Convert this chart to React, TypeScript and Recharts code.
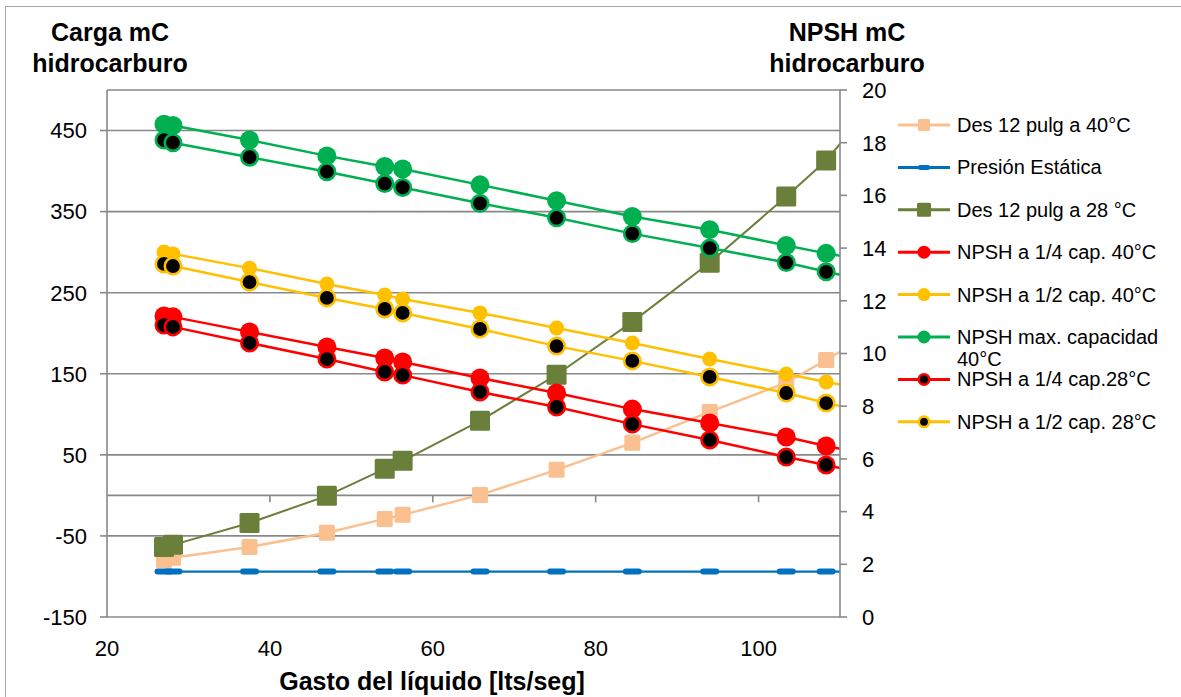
import React from 'react';
import { LineChart, Line, XAxis, YAxis, CartesianGrid, ReferenceLine } from 'recharts';

// caudal (x) – the last point sits past the axis end and gets clipped, like in the sheet
const flow = [27, 28.1, 37.5, 47, 54.1, 56.3, 65.8, 75.2, 84.5, 94, 103.4, 108.3, 113];

// left axis (Carga)
const des40 = [-79.6, -77, -63.6, -46, -29, -24, 0.6, 31.5, 64.8, 103, 139, 167, 195];
const presion = [-94, -94, -94, -94, -94, -94, -94, -94, -94, -94, -94, -94, -94];
const des28 = [-63.6, -61, -34, -0.6, 32.7, 42.6, 92, 148.8, 214, 287, 368.5, 413, 470];

// right axis (NPSH)
const npsh14_40 = [11.42, 11.39, 10.82, 10.25, 9.83, 9.68, 9.07, 8.5, 7.89, 7.36, 6.83, 6.49, 6.2];
const npsh12_40 = [13.85, 13.78, 13.24, 12.64, 12.22, 12.07, 11.54, 10.97, 10.4, 9.79, 9.22, 8.92, 8.65];
const npshMax_40 = [18.7, 18.65, 18.1, 17.5, 17.1, 17.0, 16.4, 15.8, 15.2, 14.7, 14.1, 13.8, 13.55];
const npsh14_28 = [11.08, 11.01, 10.4, 9.79, 9.3, 9.18, 8.54, 7.97, 7.32, 6.72, 6.07, 5.77, 5.45];
const npsh12_28 = [13.4, 13.32, 12.71, 12.11, 11.69, 11.54, 10.93, 10.28, 9.72, 9.11, 8.5, 8.12, 7.8];
const npshMax_28 = [18.1, 18.0, 17.45, 16.9, 16.45, 16.3, 15.7, 15.15, 14.55, 14.0, 13.45, 13.1, 12.8];

const leftTicks = [-150, -50, 50, 150, 250, 350, 450];
const rightTicks = [0, 2, 4, 6, 8, 10, 12, 14, 16, 18, 20];
const xTicks = [20, 40, 60, 80, 100];

const FONT = '"Liberation Sans", Arial, sans-serif';
const AXIS_GRAY = '#888888';

type MarkerKind = 'square' | 'dash' | 'dot' | 'ring';

interface SeriesDef {
    key: string;
    name: string;
    values: number[];
    axis: 'left' | 'right';
    color: string;
    marker: MarkerKind;
    size: number;
    width: number;
    legend: boolean;
}

const series: SeriesDef[] = [
    { key: 'des40', name: 'Des 12 pulg a 40°C', values: des40, axis: 'left', color: '#FAC090', marker: 'square', size: 16, width: 2.5, legend: true },
    { key: 'presion', name: 'Presión Estática', values: presion, axis: 'left', color: '#0070C0', marker: 'dash', size: 19, width: 2.25, legend: true },
    { key: 'des28', name: 'Des 12 pulg a 28 °C', values: des28, axis: 'left', color: '#6A7F3A', marker: 'square', size: 20, width: 2, legend: true },
    { key: 'n14_40', name: 'NPSH a 1/4 cap. 40°C', values: npsh14_40, axis: 'right', color: '#FF0000', marker: 'dot', size: 19, width: 2.5, legend: true },
    { key: 'n12_40', name: 'NPSH a 1/2 cap. 40°C', values: npsh12_40, axis: 'right', color: '#FFC000', marker: 'dot', size: 15, width: 2.5, legend: true },
    { key: 'nmax_40', name: 'NPSH max. capacidad 40°C', values: npshMax_40, axis: 'right', color: '#00B050', marker: 'dot', size: 19, width: 2.5, legend: true },
    { key: 'n14_28', name: 'NPSH a 1/4 cap.28°C', values: npsh14_28, axis: 'right', color: '#FF0000', marker: 'ring', size: 19, width: 2.5, legend: true },
    { key: 'n12_28', name: 'NPSH a 1/2 cap. 28°C', values: npsh12_28, axis: 'right', color: '#FFC000', marker: 'ring', size: 19, width: 2.5, legend: true },
    { key: 'nmax_28', name: 'NPSH max. capacidad 28°C', values: npshMax_28, axis: 'right', color: '#00B050', marker: 'ring', size: 19, width: 2.5, legend: false },
];

const data = flow.map((x, i) => {
    const row: Record<string, number> = { x };
    series.forEach((s) => { row[s.key] = s.values[i]; });
    return row;
});

function Marker({ cx, cy, kind, color, size }: { cx: number; cy: number; kind: MarkerKind; color: string; size: number }) {
    const h = size / 2;
    if (kind === 'square') {
        return <rect x={cx - h} y={cy - h} width={size} height={size} rx={1.5} fill={color} />;
    }
    if (kind === 'dash') {
        return <rect x={cx - h} y={cy - 3} width={size} height={6} rx={3} fill={color} />;
    }
    if (kind === 'ring') {
        return <circle cx={cx} cy={cy} r={h - 1.3} fill="#000" stroke={color} strokeWidth={2.6} />;
    }
    return <circle cx={cx} cy={cy} r={h} fill={color} />;
}

function wrapLabel(text: string, max = 20): string[] {
    if (text.length <= max) return [text];
    const cut = text.lastIndexOf(' ', max);
    return [text.slice(0, cut), text.slice(cut + 1)];
}

function Overlay() {
    const items = series.filter((s) => s.legend);
    return (
        <svg width={1181} height={697} style={{ position: 'absolute', left: 0, top: 0, pointerEvents: 'none' }}>
            <g fontFamily={FONT} fontWeight="bold" fill="#000" textAnchor="middle">
                <text x={110} y={41} fontSize={25}>Carga mC</text>
                <text x={110} y={72} fontSize={25}>hidrocarburo</text>
                <text x={847} y={41} fontSize={25}>NPSH mC</text>
                <text x={847} y={72} fontSize={25}>hidrocarburo</text>
                <text x={432} y={690} fontSize={25}>Gasto del líquido [lts/seg]</text>
            </g>
            {items.map((s, i) => {
                const y = 125 + i * 42.4;
                const lines = wrapLabel(s.name);
                const small = s.marker === 'square' ? (s.size > 18 ? 14 : 12) : 13;
                return (
                    <g key={s.key}>
                        <line x1={898} x2={950} y1={y} y2={y} stroke={s.color} strokeWidth={3} />
                        {s.marker === 'dash'
                            ? <rect x={924 - 6} y={y - 2.5} width={12} height={5} rx={2} fill={s.color} />
                            : <Marker cx={924} cy={y} kind={s.marker} color={s.color} size={small} />}
                        <text x={957} y={y + 7} fontFamily={FONT} fontSize={20} fill="#000">
                            {lines.map((l, j) => (
                                <tspan key={j} x={957} dy={j === 0 ? 0 : 22}>{l}</tspan>
                            ))}
                        </text>
                    </g>
                );
            })}
        </svg>
    );
}

export default function App() {
    return (
        <div style={{ position: 'relative', width: 1181, height: 697, overflow: 'hidden', background: '#fff' }}>
            <style>{'body{margin:0}'}</style>
            <div style={{ position: 'absolute', left: 5, top: 6, width: 1300, height: 800, borderLeft: '1.5px solid #a6a6a6', borderTop: '1.5px solid #a6a6a6' }} />
            <LineChart
                width={1181}
                height={697}
                data={data}
                margin={{ top: 90, right: 281, left: 0, bottom: 40 }}
                style={{ position: 'absolute', left: 0, top: 0 }}
            >
                <CartesianGrid yAxisId="left" vertical={false} stroke={AXIS_GRAY} strokeWidth={1.6} />
                <XAxis
                    type="number"
                    dataKey="x"
                    domain={[20, 110]}
                    ticks={xTicks}
                    allowDataOverflow
                    axisLine={false}
                    tickLine={false}
                    tickSize={0}
                    tickMargin={23}
                    height={40}
                    tick={{ fill: '#000', fontSize: 22, fontFamily: FONT }}
                />
                <YAxis
                    yAxisId="left"
                    orientation="left"
                    domain={[-150, 500]}
                    ticks={leftTicks}
                    allowDataOverflow
                    width={107}
                    axisLine={{ stroke: AXIS_GRAY, strokeWidth: 1.6 }}
                    tickLine={{ stroke: AXIS_GRAY, strokeWidth: 1.6 }}
                    tickSize={7}
                    tickMargin={13}
                    tick={{ fill: '#000', fontSize: 22, fontFamily: FONT }}
                />
                <YAxis
                    yAxisId="right"
                    orientation="right"
                    domain={[0, 20]}
                    ticks={rightTicks}
                    allowDataOverflow
                    width={60}
                    axisLine={{ stroke: AXIS_GRAY, strokeWidth: 1.6 }}
                    tickLine={{ stroke: AXIS_GRAY, strokeWidth: 1.6 }}
                    tickSize={7}
                    tickMargin={15}
                    tick={{ fill: '#000', fontSize: 22, fontFamily: FONT }}
                />
                <ReferenceLine yAxisId="left" y={0} stroke={AXIS_GRAY} strokeWidth={1.6} />
                {xTicks.slice(1).map((t) => (
                    <ReferenceLine
                        key={`xt-${t}`}
                        yAxisId="left"
                        segment={[{ x: t, y: 0 }, { x: t, y: -8.5 }]}
                        stroke={AXIS_GRAY}
                        strokeWidth={1.6}
                    />
                ))}
                {series.map((s) => (
                    <Line
                        key={s.key}
                        yAxisId={s.axis}
                        dataKey={s.key}
                        name={s.name}
                        type="linear"
                        stroke={s.color}
                        strokeWidth={s.width}
                        isAnimationActive={false}
                        dot={(p: any) => (
                            <Marker key={`${s.key}-${p.index}`} cx={p.cx} cy={p.cy} kind={s.marker} color={s.color} size={s.size} />
                        )}
                        activeDot={false}
                    />
                ))}
            </LineChart>
            <Overlay />
        </div>
    );
}
